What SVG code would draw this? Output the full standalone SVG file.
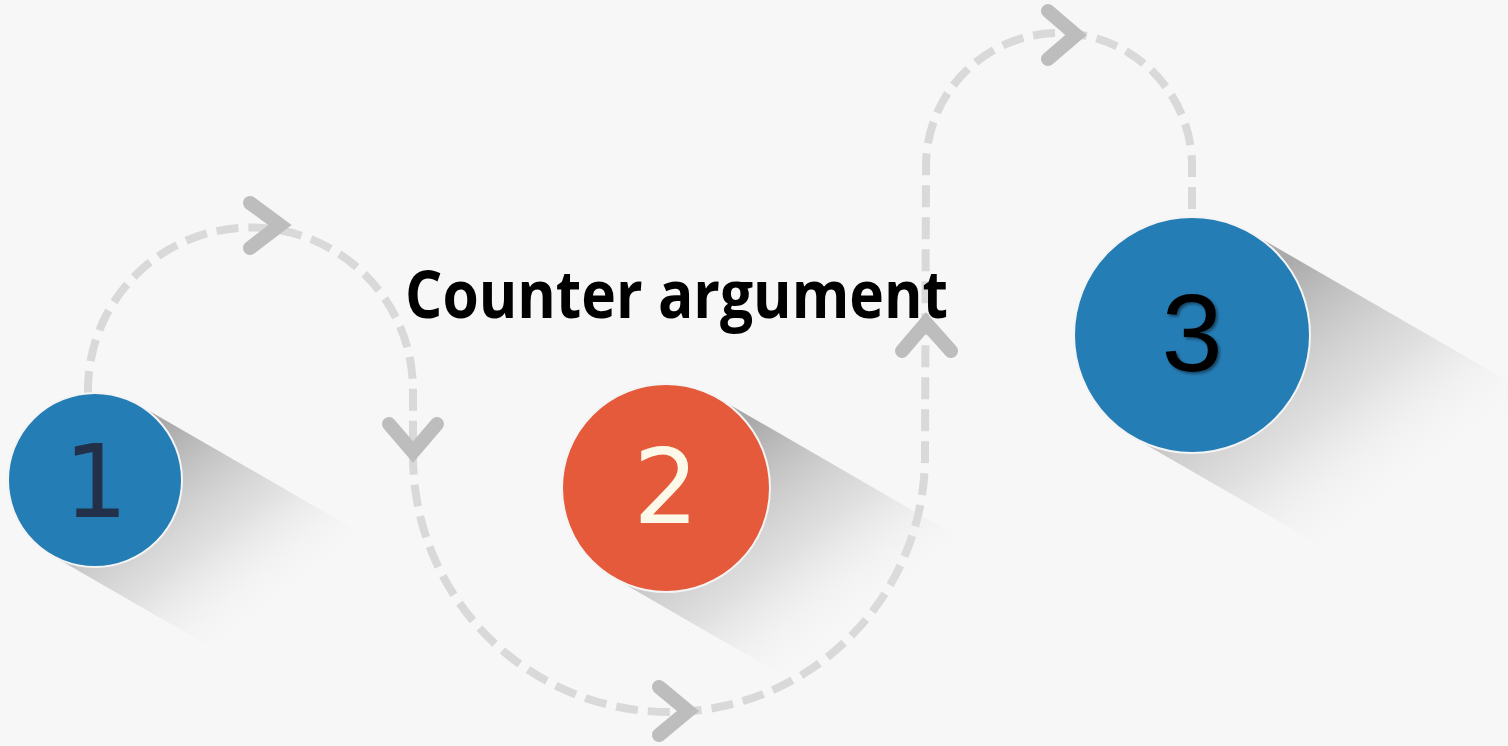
<svg xmlns="http://www.w3.org/2000/svg" width="1508" height="746" viewBox="0 0 1508 746">
  <style>
    .dash { fill: none; stroke: #d9d9d9; stroke-width: 8; stroke-dasharray: 22 10; }
    .chev { fill: none; stroke: #bdbdbd; stroke-width: 14; stroke-linecap: round; stroke-linejoin: miter; }
    .disc { stroke: #f4f4f4; stroke-width: 2; }
    .blue { fill: #257db5; }
    .orange { fill: #e45a3b; }
    .num { text-anchor: middle; }
  </style>
  <defs>
    <linearGradient id="sh1" gradientUnits="userSpaceOnUse" x1="95" y1="480" x2="227" y2="650">
      <stop offset="0" stop-color="#a6a6a6" stop-opacity="0.95"/>
      <stop offset="0.55" stop-color="#c8c8c8" stop-opacity="0.5"/>
      <stop offset="1" stop-color="#f7f7f7" stop-opacity="0"/>
    </linearGradient>
    <linearGradient id="sh2" gradientUnits="userSpaceOnUse" x1="666" y1="488" x2="807" y2="670">
      <stop offset="0" stop-color="#a6a6a6" stop-opacity="0.95"/>
      <stop offset="0.55" stop-color="#c8c8c8" stop-opacity="0.5"/>
      <stop offset="1" stop-color="#f7f7f7" stop-opacity="0"/>
    </linearGradient>
    <linearGradient id="sh3" gradientUnits="userSpaceOnUse" x1="1192" y1="335" x2="1351" y2="540">
      <stop offset="0" stop-color="#a6a6a6" stop-opacity="0.95"/>
      <stop offset="0.55" stop-color="#c8c8c8" stop-opacity="0.5"/>
      <stop offset="1" stop-color="#f7f7f7" stop-opacity="0"/>
    </linearGradient>
    <filter id="ds" x="-30%" y="-30%" width="160%" height="160%">
      <feDropShadow dx="2" dy="2" stdDeviation="1.5" flood-color="#000" flood-opacity="0.45"/>
    </filter>
  </defs>

  <rect width="1508" height="746" fill="#f7f7f7"/>

  <g id="connectors">
    <path class="dash" d="M 88 393 L 88 390 A 162.5 162.5 0 0 1 413 390 L 413 456 A 256 256 0 0 0 925 456 L 926 166 A 133 133 0 0 1 1192 166 L 1192 217"/>
    <polyline class="chev" points="250,203 280,225 250,248"/>
    <polyline class="chev" points="389,424 413,452 437,424"/>
    <polyline class="chev" points="659,687 688,711 659,735"/>
    <polyline class="chev" points="902,351 926,323 951,351"/>
    <polyline class="chev" points="1048,11 1076,35 1048,59"/>
  </g>

  <g id="node-1">
    <polygon points="138.5,404.7 485.0,604.7 398.0,755.3 51.5,555.3" fill="url(#sh1)"/>
    <circle class="disc blue" cx="95" cy="480" r="87"/>
    <text class="num" x="96" y="517" font-family="DejaVu Sans, sans-serif" font-size="101" fill="#22304a">1</text>
  </g>

  <g id="node-2">
    <polygon points="718,397.9 1064,597.9 960,778.1 614,578.1" fill="url(#sh2)"/>
    <circle class="disc orange" cx="666" cy="488" r="104"/>
    <text class="num" x="666" y="523" font-family="DejaVu Sans, sans-serif" font-size="103" fill="#fdf9e8">2</text>
  </g>

  <g id="node-3">
    <polygon points="1251,232.8 1641,457.8 1523,662.2 1133,437.2" fill="url(#sh3)"/>
    <circle class="disc blue" cx="1192" cy="335" r="118"/>
    <text class="num" x="1192" y="371" font-family="Liberation Sans, Arial, sans-serif" font-size="110" fill="#000000" filter="url(#ds)">3</text>
  </g>

  <g id="title">
    <text x="405" y="318" font-family="Open Sans, Noto Sans, sans-serif" font-weight="bold" font-size="67" fill="#000000" textLength="543" lengthAdjust="spacingAndGlyphs">Counter argument</text>
  </g>
</svg>
